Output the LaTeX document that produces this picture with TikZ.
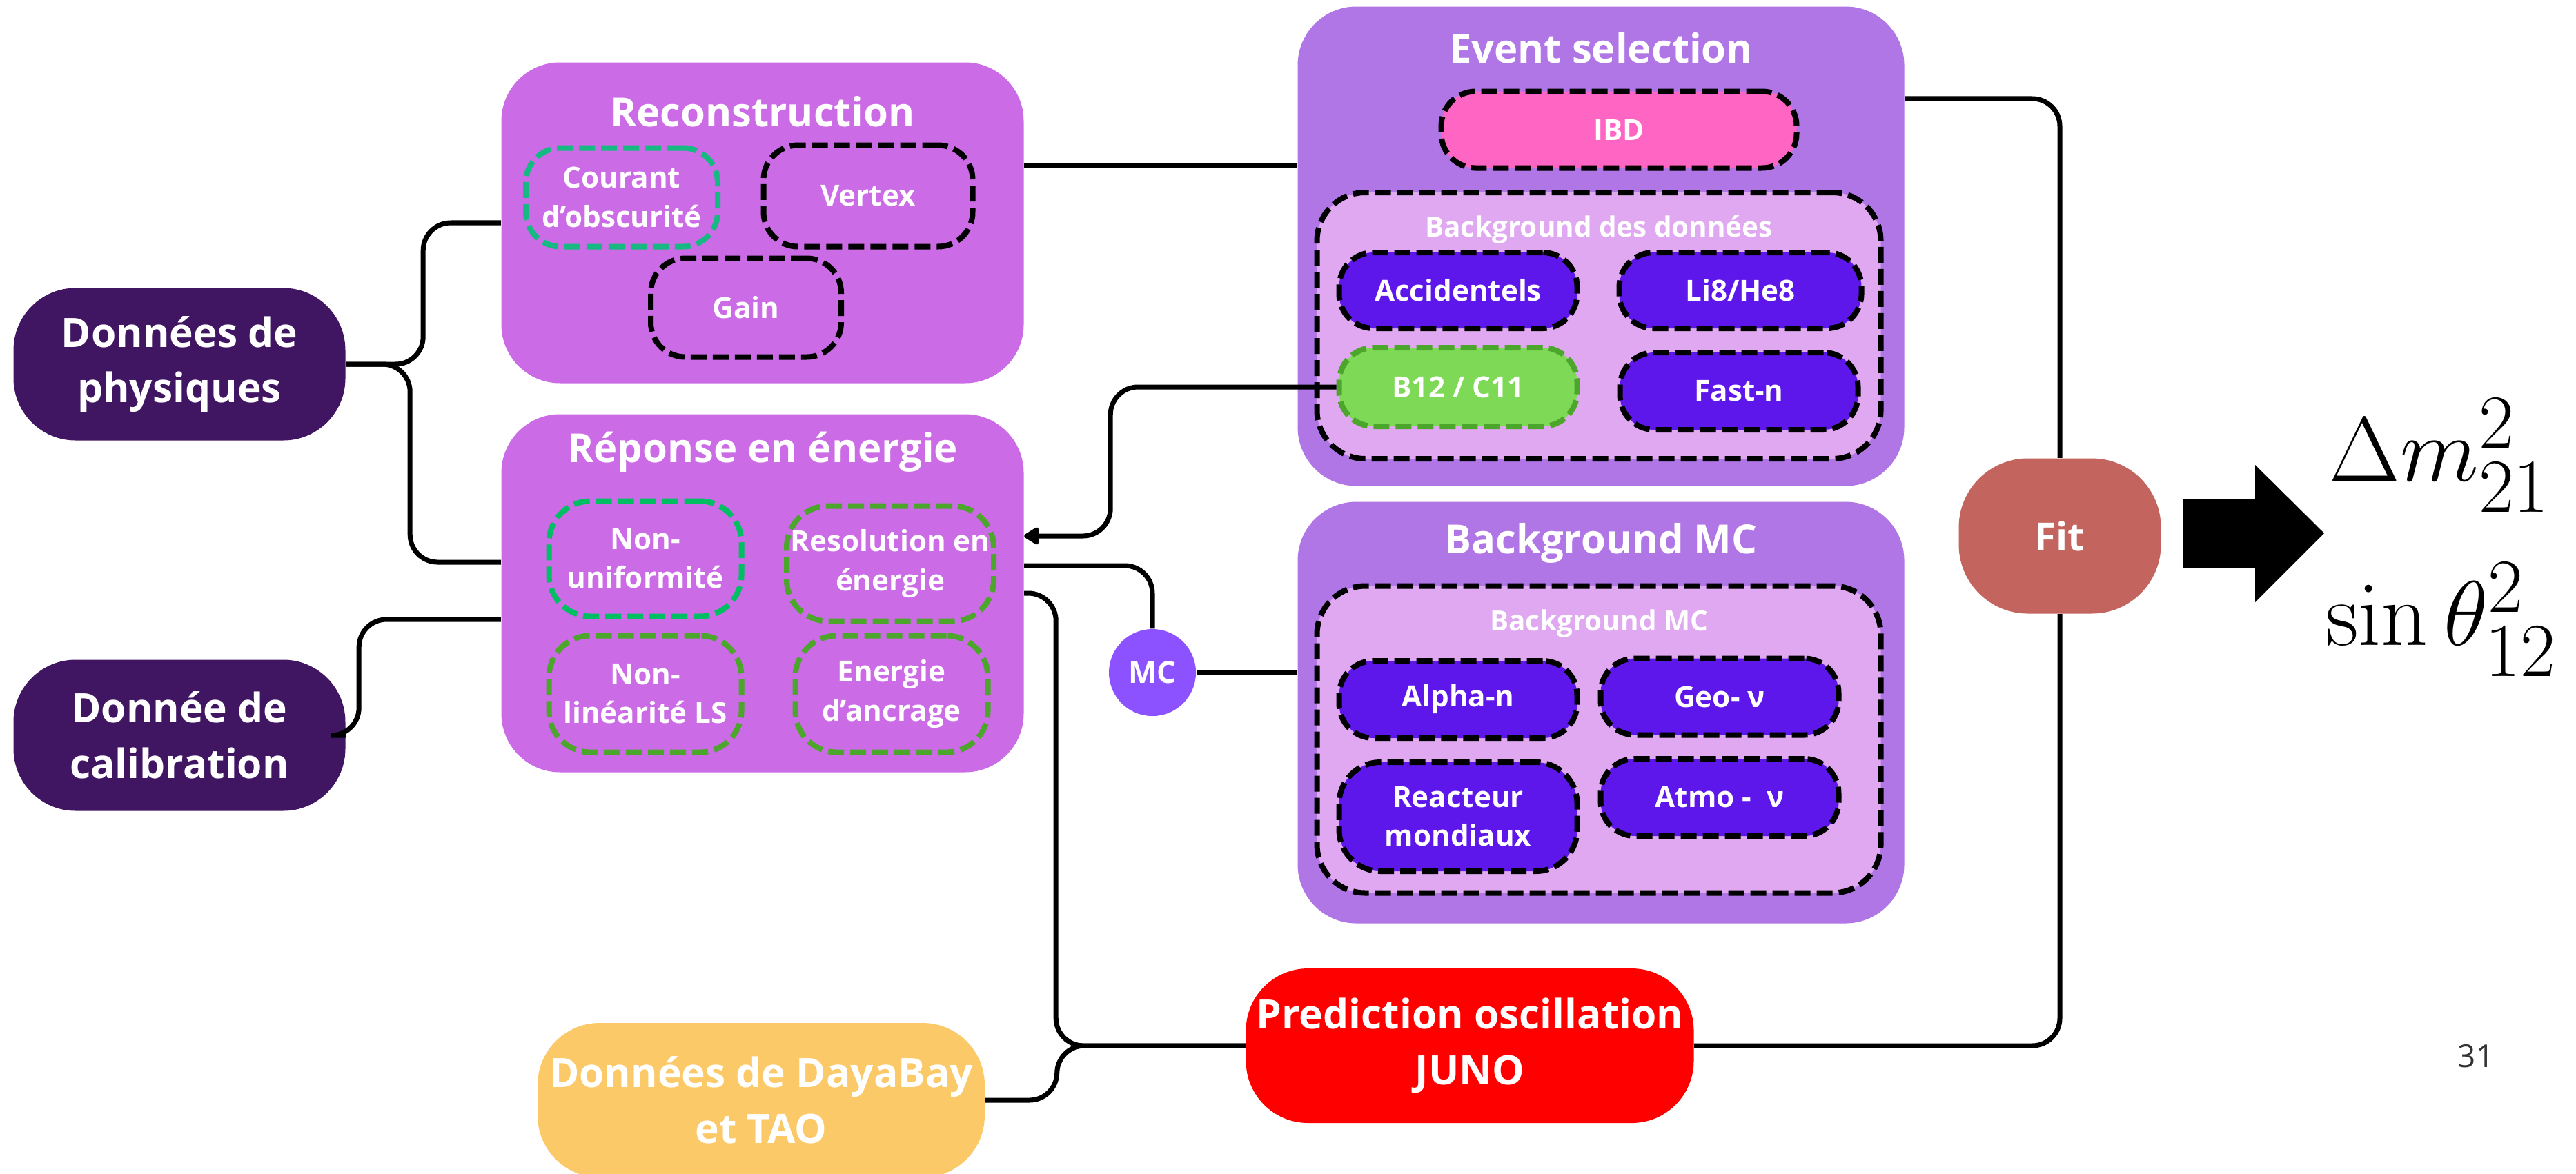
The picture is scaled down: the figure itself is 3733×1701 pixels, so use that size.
\documentclass[tikz,border=0pt]{standalone}
\usepackage[no-math]{fontspec}
\setmainfont{Open Sans}
\usepackage{tikz}
\usetikzlibrary{positioning}
\usetikzlibrary{calc}
\usetikzlibrary{arrows.meta}
\usepackage{amsmath}
\definecolor{inputdark}{RGB}{64,21,98}
\definecolor{panelpink}{RGB}{203,108,230}
\definecolor{panelviolet}{RGB}{176,118,230}
\definecolor{innerlight}{RGB}{224,168,240}
\definecolor{itemviolet}{RGB}{94,23,235}
\definecolor{ibdpink}{RGB}{255,102,196}
\definecolor{lightgreen}{RGB}{126,217,87}
\definecolor{darkgreen}{RGB}{76,166,43}
\definecolor{tealline}{RGB}{22,185,130}
\definecolor{mintgreen}{RGB}{0,191,99}
\definecolor{mcviolet}{RGB}{140,82,255}
\definecolor{fitred}{RGB}{196,100,94}
\definecolor{dayayellow}{RGB}{252,201,104}

\tikzset{
  link/.style={line width=2pt, rounded corners=4mm},
  bignode/.style={rounded corners=9mm, text=white, align=center, inner sep=0pt,
    font=\fontsize{16.7}{23}\selectfont\bfseries},
  panel/.style={rounded corners=8.5mm, inner sep=0pt},
  paneltitle/.style={text=white, inner sep=0pt, font=\fontsize{16.5}{20}\selectfont\bfseries},
  inbox/.style={fill=innerlight, draw=black, line width=0.8mm,
    dash pattern=on 2.3mm off 0.9mm, rounded corners=7mm, inner sep=0pt},
  inlabel/.style={text=white, inner sep=0pt, font=\fontsize{11.5}{14}\selectfont\bfseries},
  item/.style={draw=black, line width=0.8mm, dash pattern=on 2.3mm off 0.9mm,
    rounded corners=5mm, text=white, align=center, inner sep=0pt,
    font=\fontsize{12}{16}\selectfont\bfseries},
  result/.style={scale=1.52, inner sep=0pt, font=\fontsize{24.88}{30}\selectfont},
}

\begin{document}
\begin{tikzpicture}[x=0.1mm, y=-0.1mm]
\useasboundingbox (0,0) rectangle (3733,1701);

%---------------------------------------
% Inputs
%---------------------------------------
\node[bignode, fill=inputdark, minimum width=48.1mm, minimum height=22.1mm] (phys) at (260,528) {Données de\\physiques};
\node[bignode, fill=inputdark, minimum width=48.1mm, minimum height=21.9mm] (calib) at (260,1066) {Donnée de\\calibration};
\node[bignode, fill=dayayellow, minimum width=64.8mm, minimum height=22.4mm] (daya) at (1103,1595) {Données de DayaBay\\et TAO};

%---------------------------------------
% Reconstruction
%---------------------------------------
\node[panel, fill=panelpink, minimum width=75.7mm, minimum height=46.5mm] (reco) at (1105,323) {};
\node[paneltitle] (recotitle) at (1105,162) {Reconstruction};
\node[item, draw=tealline, minimum width=27.8mm, minimum height=14.3mm] (dark) at (901,286) {Courant\\d’obscurité};
\node[item, minimum width=30.3mm, minimum height=14.7mm] (vertex) at (1258,284) {Vertex};
\node[item, minimum width=27.6mm, minimum height=14.3mm] (gain) at (1081,446) {Gain};

%---------------------------------------
% Energy response
%---------------------------------------
\node[panel, fill=panelpink, minimum width=75.7mm, minimum height=51.9mm] (resp) at (1105,860) {};
\node[paneltitle] (resptitle) at (1105,655) {Réponse en énergie};
\node[item, draw=mintgreen, minimum width=27.9mm, minimum height=16.7mm, rounded corners=6mm] (nonunif) at (935,810) {Non-\\uniformité};
\node[item, draw=darkgreen, minimum width=30mm, minimum height=16.7mm, rounded corners=6mm] (resol) at (1290,817) {Resolution en\\énergie};
\node[item, draw=darkgreen, minimum width=27.9mm, minimum height=16.9mm, rounded corners=6mm] (nonlin) at (935,1006) {Non-\\linéarité LS};
\node[item, draw=darkgreen, minimum width=27.9mm, minimum height=16.9mm, rounded corners=6mm] (ancrage) at (1292,1006) {Energie\\d’ancrage};

%---------------------------------------
% Event selection
%---------------------------------------
\node[panel, fill=panelviolet, minimum width=87.9mm, minimum height=69.5mm] (evsel) at (2320,357) {};
\node[paneltitle] (evseltitle) at (2320,70) {Event selection};
\node[item, fill=ibdpink, minimum width=51.5mm, minimum height=11.1mm] (ibd) at (2346,188) {IBD};
\node[inbox, minimum width=81.7mm, minimum height=38.6mm] (bgdata) at (2317,472) {};
\node[inlabel] (bgdatalabel) at (2317,333) {Background des données};
\node[item, fill=itemviolet, minimum width=34.5mm, minimum height=11mm] (acc) at (2113,421) {Accidentels};
\node[item, fill=itemviolet, minimum width=35.1mm, minimum height=11mm] (li8) at (2522,421) {Li8/He8};
\node[item, fill=lightgreen, draw=darkgreen, minimum width=34.5mm, minimum height=11.4mm] (b12) at (2113,561) {B12 / C11};
\node[item, fill=itemviolet, minimum width=34.5mm, minimum height=11.2mm] (fastn) at (2520,567) {Fast-n};

%---------------------------------------
% Background MC
%---------------------------------------
\node[panel, fill=panelviolet, minimum width=87.9mm, minimum height=61.1mm] (bgmc) at (2320,1033) {};
\node[paneltitle] (bgmctitle) at (2320,787) {Background MC};
\node[inbox, minimum width=81.7mm, minimum height=44.5mm] (bgmcin) at (2317,1072) {};
\node[inlabel] (bgmclabel) at (2317,904) {Background MC};
\node[item, fill=itemviolet, minimum width=34.5mm, minimum height=11.2mm] (alphan) at (2113,1014) {Alpha-n};
\node[item, fill=itemviolet, minimum width=34.5mm, minimum height=11.1mm] (geo) at (2492,1010) {Geo- ν};
\node[item, fill=itemviolet, minimum width=34.5mm, minimum height=15.8mm, rounded corners=6mm] (reacteur) at (2113,1184) {Reacteur\\mondiaux};
\node[item, fill=itemviolet, minimum width=34.5mm, minimum height=11.2mm] (atmo) at (2492,1156) {Atmo -\ \ ν};

%---------------------------------------
% MC, prediction, fit
%---------------------------------------
\node[circle, fill=mcviolet, text=white, inner sep=0pt, minimum size=12.6mm,
      font=\fontsize{12.5}{15}\selectfont\bfseries] (mc) at (1670,975) {MC};
\node[bignode, fill=red, minimum width=64.9mm, minimum height=22.4mm] (pred) at (2130,1516) {Prediction oscillation\\JUNO};
\node[bignode, fill=fitred, rounded corners=10mm, minimum width=29.3mm, minimum height=22.5mm,
      font=\fontsize{16}{20}\selectfont\bfseries] (fit) at (2985,777) {Fit};

% Connectors
\draw[link] (phys.east) -- ++(112,0) |- (reco.west);
\draw[link] (phys.east) -- ++(93,0) |- ($(resp.west)+(0,-45)$);
\draw[link] (calib.east) -- ++(19,0) |- ($(resp.west)+(0,38)$);
\coordinate (recoout) at ($(reco.east)+(0,-83)$);
\draw[link] (recoout) -- (recoout -| evsel.west);
\draw[link, -{Triangle[length=2.4mm, width=2.8mm, round]}] (b12.west) -| ($(resp.east)+(125,-83)$) -- ($(resp.east)+(0,-83)$);
\draw[link] ($(resp.east)+(0,-40)$) -| (mc.north);
\draw[link] (mc.east) -- (mc.east -| bgmc.west);
\draw[link] (resp.east) -- ++(46,0) |- (pred.west);
\draw[link] (daya.east) -- ++(104,0) |- (pred.west);
\draw[link] ($(evsel.east)+(0,-214)$) -| (fit.north);
\draw[link] (fit.south) |- (pred.east);

% Result
\fill (3163,723) -- (3268,723) -- (3268,674) -- (3368,773) -- (3268,873) -- (3268,823) -- (3163,823) -- cycle;
\node[result] (dm) at (3536,660) {$\Delta m_{21}^2$};
\node[result] (theta) at (3538,898) {$\sin\theta_{12}^2$};
\node[text=black!80, font=\fontsize{13}{15}\selectfont] (page) at (3588,1531) {31};

\end{tikzpicture}
\end{document}
